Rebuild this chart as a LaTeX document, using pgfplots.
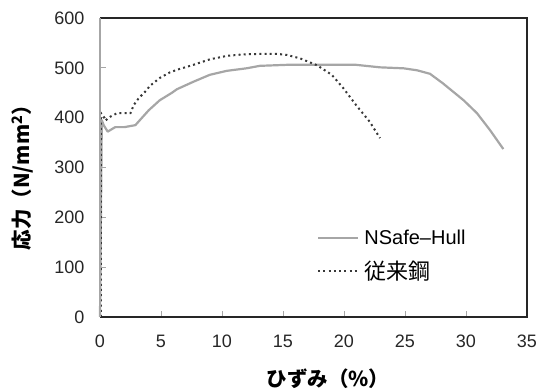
\documentclass[border=0pt]{standalone}
\usepackage{fontspec}
\setmainfont{Liberation Sans}
\newfontfamily\jp{Noto Sans CJK JP}
\usepackage{pgfplots}
\pgfplotsset{compat=1.18}
\definecolor{solidgray}{HTML}{A6A6A6}
\definecolor{dotgray}{HTML}{383838}
\begin{document}
\begin{tikzpicture}
\path[use as bounding box] (-100pt,-73pt) rectangle (440pt,317pt);
\begin{axis}[
  at={(0pt,0pt)}, anchor=south west,
  scale only axis, width=427pt, height=299pt,
  xmin=0, xmax=35, ymin=0, ymax=600,
  xtick={0,5,...,35}, ytick={0,100,...,600},
  tick pos=left, tick align=inside,
  major tick length=6pt,
  every tick/.style={solidgray, line width=0.8pt},
  axis line style={draw=none},
  clip=false,
  /pgf/number format/assume math mode=true,
  tick label style={font=\fontsize{18}{18}\selectfont, text=black!85},
  xticklabel style={anchor=center, yshift=-24pt},
  yticklabel style={anchor=east, xshift=-12pt},
  xlabel={\jp\bfseries ひずみ（\%）},
  ylabel={\jp\bfseries 応力（N/mm\textsuperscript{2}）},
  xlabel style={font=\fontsize{20.5}{20.5}\selectfont, at={(axis description cs:0.534,0)}, anchor=center, yshift=-62pt},
  ylabel style={font=\fontsize{20.5}{20.5}\selectfont, at={(axis description cs:-0.1815,0.483)}, anchor=center, rotate=0},
  legend style={draw=none, fill=none, inner sep=0pt, at={(axis description cs:0.5082,0.2057)}, anchor=west,
    nodes={inner sep=0pt, anchor=west}, row sep=15pt, column sep=5pt},
  legend cell align=left,
  legend image code/.code={\draw[#1] (0pt,0pt) -- (40pt,0pt);},
]
\addplot[solidgray, line width=2.2pt, line join=round] coordinates {
(0,0) (0.15,395) (0.3,385) (0.63,372) (1.25,381) (2.0,381) (2.9,385) (4.0,415) (4.9,435) (5.9,450) (6.3,457) (7.65,472) (9.0,486) (10.4,494) (12.0,499) (13.1,504) (15.3,506) (18.85,506) (21.0,506) (22.95,501) (24.9,499) (26.0,495) (27.05,488) (28.1,469) (29.8,435) (30.9,409) (31.97,375) (33.06,337)
};
\addlegendentry{\fontsize{20}{20}\selectfont NSafe–Hull}
\addplot[dotgray, line width=2pt, dash pattern=on 2pt off 3.2pt] coordinates {
(0.08,0) (0.08,409) (0.3,402) (0.43,394) (0.85,402) (1.4,409) (2.07,409) (2.5,409) (2.76,425) (3.17,439) (3.7,452) (4.1,464) (4.92,480) (5.74,491) (6.3,496) (7.65,506) (9.0,517) (10.4,524) (11.75,527) (13.1,528) (14.5,528) (15.3,526) (16.4,519) (17.8,505) (19.0,486) (19.95,459) (21.0,425) (22.1,392) (22.95,359)
};
\addlegendentry{\jp\fontsize{22}{22}\selectfont 従来鋼}
\draw[black!85, line width=1.3pt] (rel axis cs:0,0) -- (rel axis cs:1,0) -- (rel axis cs:1,1) -- (rel axis cs:0,1);
\draw[solidgray, line width=1.3pt] (rel axis cs:0,0) -- (rel axis cs:0,1);
\end{axis}
\end{tikzpicture}
\end{document}
